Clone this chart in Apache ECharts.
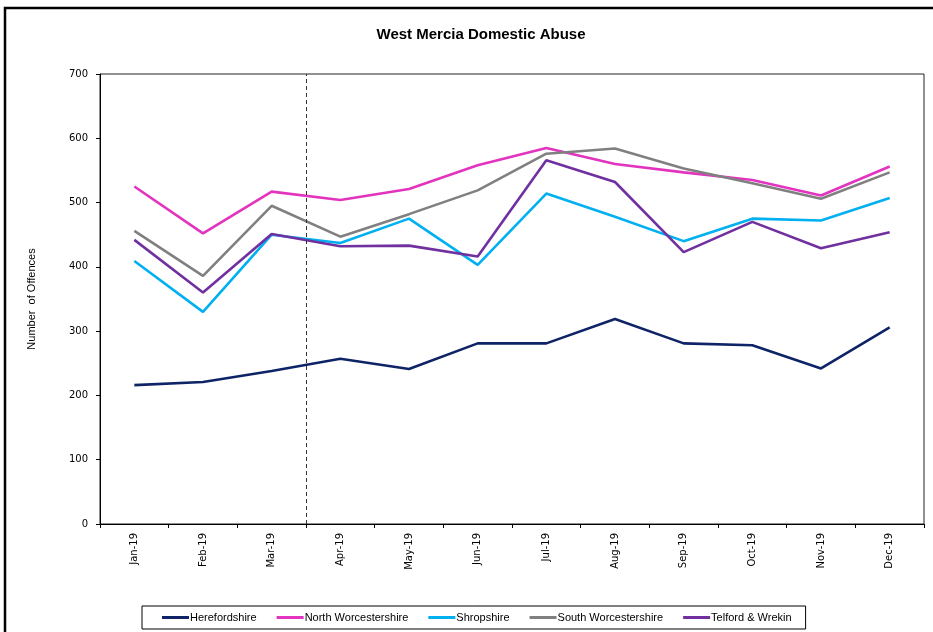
<!DOCTYPE html>
<html>
<head>
<meta charset="utf-8">
<script src="https://cdn.jsdelivr.net/npm/echarts@6/dist/echarts.min.js"></script>
<style>
  html, body { margin: 0; padding: 0; background: #fff; }
  #chart { width: 933px; height: 632px; }
</style>
</head>
<body>
<div id="chart"></div>
<script>
// Monthly domestic abuse offences by area, 2019
const months = ['Jan-19', 'Feb-19', 'Mar-19', 'Apr-19', 'May-19', 'Jun-19',
                'Jul-19', 'Aug-19', 'Sep-19', 'Oct-19', 'Nov-19', 'Dec-19'];

const herefordshire       = [216, 221, 238, 257, 241, 281, 281, 319, 281, 278, 242, 306];
const northWorcestershire = [525, 452, 517, 504, 521, 558, 585, 560, 547, 535, 511, 556];
const shropshire          = [409, 330, 450, 437, 475, 403, 514, 478, 440, 475, 472, 507];
const southWorcestershire = [456, 386, 495, 447, 482, 519, 576, 584, 553, 530, 506, 547];
const telfordWrekin       = [442, 360, 451, 432, 433, 416, 566, 532, 423, 470, 429, 454];

const yTicks = [0, 100, 200, 300, 400, 500, 600, 700];

// Boundary between Mar-19 and Apr-19 marked with a dashed line
const splitBoundary = 3;

const seriesDefs = [
  { name: 'Herefordshire',        data: herefordshire,       color: '#0f2467' },
  { name: 'North Worcestershire', data: northWorcestershire, color: '#e234be' },
  { name: 'Shropshire',           data: shropshire,          color: '#00b0f0' },
  { name: 'South Worcestershire', data: southWorcestershire, color: '#808080' },
  { name: 'Telford & Wrekin',     data: telfordWrekin,       color: '#7030a0' }
];

const chart = echarts.init(document.getElementById('chart'), null, { renderer: 'canvas' });

const lineSeries = seriesDefs.map(s => ({
  name: s.name,
  type: 'line',
  data: s.data,
  symbol: 'none',
  color: s.color,
  lineStyle: { color: s.color, width: 2.6 },
  xAxisIndex: 0,
  yAxisIndex: 0,
  animation: false
}));

// Invisible helper series carrying the dashed divider on a continuous axis
lineSeries.push({
  name: 'divider',
  type: 'line',
  xAxisIndex: 1,
  yAxisIndex: 0,
  data: [],
  silent: true,
  markLine: {
    symbol: ['none', 'none'],
    silent: true,
    label: { show: false },
    lineStyle: { color: '#333', width: 1, type: [4, 3] },
    data: [{ xAxis: splitBoundary }],
    animation: false
  }
});

chart.setOption({
  backgroundColor: '#fff',
  animation: false,
  title: {
    text: 'West Mercia Domestic Abuse',
    left: 476,
    top: 22,
    textAlign: 'center',
    textStyle: {
      fontFamily: 'Liberation Sans Narrow, Liberation Sans, sans-serif',
      fontWeight: 'bold',
      fontSize: 15,
      color: '#000'
    }
  },
  graphic: [{
    type: 'rect',
    shape: { x: 5, y: 8, width: 1200, height: 1200 },
    style: { fill: 'none', stroke: '#000', lineWidth: 2.5 },
    silent: true,
    z: 100
  }],
  legend: {
    data: seriesDefs.map(s => s.name),
    left: 142,
    top: 606,
    width: 664,
    padding: [6, 14, 6, 20],
    itemGap: 20,
    itemWidth: 27,
    itemHeight: 3,
    icon: 'rect',
    borderColor: '#000',
    borderWidth: 1,
    textStyle: {
      fontFamily: 'Liberation Sans Narrow, Liberation Sans, sans-serif',
      fontSize: 11,
      color: '#000',
      padding: [0, 0, 0, -4]
    }
  },
  grid: {
    left: 100,
    right: 9,
    top: 74,
    bottom: 108,
    show: true,
    borderColor: '#222',
    borderWidth: 1,
    containLabel: false
  },
  xAxis: [{
    type: 'category',
    data: months,
    boundaryGap: true,
    axisLine: { show: true, lineStyle: { color: '#000', width: 1 } },
    axisTick: { show: true, alignWithLabel: false, length: 4, lineStyle: { color: '#000' } },
    axisLabel: {
      rotate: 90,
      margin: 9,
      fontFamily: 'DejaVu Sans, sans-serif',
      fontSize: 10,
      color: '#000'
    },
    splitLine: { show: false }
  }, {
    type: 'value',
    min: 0,
    max: months.length,
    show: false
  }],
  yAxis: {
    type: 'value',
    min: yTicks[0],
    max: yTicks[yTicks.length - 1],
    interval: 100,
    name: 'Number  of Offences',
    nameLocation: 'middle',
    nameGap: 63,
    nameRotate: 90,
    nameTextStyle: {
      fontFamily: 'Liberation Sans, Arial, sans-serif',
      fontSize: 11,
      color: '#000'
    },
    axisLine: { show: true, lineStyle: { color: '#000', width: 1 } },
    axisTick: { show: true, length: 4, lineStyle: { color: '#000' } },
    axisLabel: {
      margin: 12,
      fontFamily: 'DejaVu Sans, sans-serif',
      fontSize: 10,
      color: '#000'
    },
    splitLine: { show: false }
  },
  series: lineSeries
});
</script>
</body>
</html>
